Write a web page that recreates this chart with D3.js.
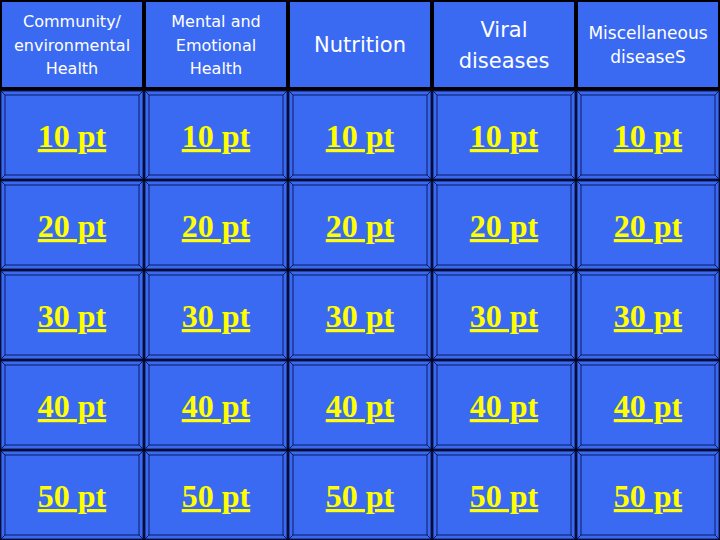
<!DOCTYPE html>
<html><head><meta charset="utf-8">
<script src="https://cdn.jsdelivr.net/npm/d3@7"></script>
<style>body{margin:0;background:#000}</style>
</head><body><div id="board"></div>
<script>
// board content
var categories = [
  ["Community/", "environmental", "Health"],
  ["Mental and", "Emotional", "Health"],
  ["Nutrition"],
  ["Viral", "diseases"],
  ["Miscellaneous", "diseaseS"]
];
var points = ["10 pt", "20 pt", "30 pt", "40 pt", "50 pt"];
var headerSize = [16, 16, 21, 21, 17];

var width = 720, height = 540, headerH = 90;
var blue = "#3b6af2";

var svg = d3.select("#board").append("svg")
  .attr("width", width).attr("height", height)
  .style("background", "#000");

var x = d3.scaleBand().domain(d3.range(categories.length)).range([0, width]);
var y = d3.scaleBand().domain(points).range([headerH, height]);

// header row
var head = svg.selectAll("g.head").data(categories).enter().append("g")
  .attr("transform", (d, i) => "translate(" + x(i) + ",0)");
head.append("rect")
  .attr("x", 2).attr("y", 2)
  .attr("width", x.bandwidth() - 4).attr("height", headerH - 5)
  .attr("fill", blue);
head.append("text")
  .attr("text-anchor", "middle")
  .attr("fill", "#fff")
  .attr("font-family", "'DejaVu Sans', sans-serif")
  .attr("font-size", (d, i) => headerSize[i])
  .selectAll("tspan").data(d => d).enter().append("tspan")
  .attr("x", x.bandwidth() / 2)
  .attr("y", function(d, j, n) {
    var fs = headerSize[categories.indexOf(d3.select(this.parentNode).datum())];
    var lh = fs * 1.45;
    return headerH / 2 + (j - (n.length - 1) / 2) * lh + fs * 0.35;
  })
  .text(d => d);

// value cells
var cells = [];
points.forEach(p => categories.forEach((c, i) => cells.push({col: i, pt: p})));

var cell = svg.selectAll("g.cell").data(cells).enter().append("g")
  .attr("transform", d => "translate(" + x(d.col) + "," + y(d.pt) + ")");
var bw = x.bandwidth(), bh = y.bandwidth();
cell.append("rect")
  .attr("x", 1).attr("y", 1).attr("width", bw - 2).attr("height", bh - 2)
  .attr("fill", blue).attr("stroke", "#0a1a60").attr("stroke-width", 1);
cell.append("rect")
  .attr("x", 5).attr("y", 5).attr("width", bw - 10).attr("height", bh - 10)
  .attr("fill", blue).attr("stroke", "#0a1a60").attr("stroke-width", 1);
// bevel corners
cell.append("path")
  .attr("d", "M1,1L5,5M" + (bw - 1) + ",1L" + (bw - 5) + ",5M1," + (bh - 1) + "L5," + (bh - 5) + "M" + (bw - 1) + "," + (bh - 1) + "L" + (bw - 5) + "," + (bh - 5))
  .attr("stroke", "#0a1a60").attr("stroke-width", 1);
cell.append("text")
  .attr("x", bw / 2).attr("y", bh / 2 + 12)
  .attr("text-anchor", "middle")
  .attr("fill", "#ffff00")
  .attr("font-family", "'Liberation Serif', serif")
  .attr("font-weight", "bold")
  .attr("font-size", 32)
  .attr("text-decoration", "underline")
  .text(d => d.pt);
</script></body></html>
